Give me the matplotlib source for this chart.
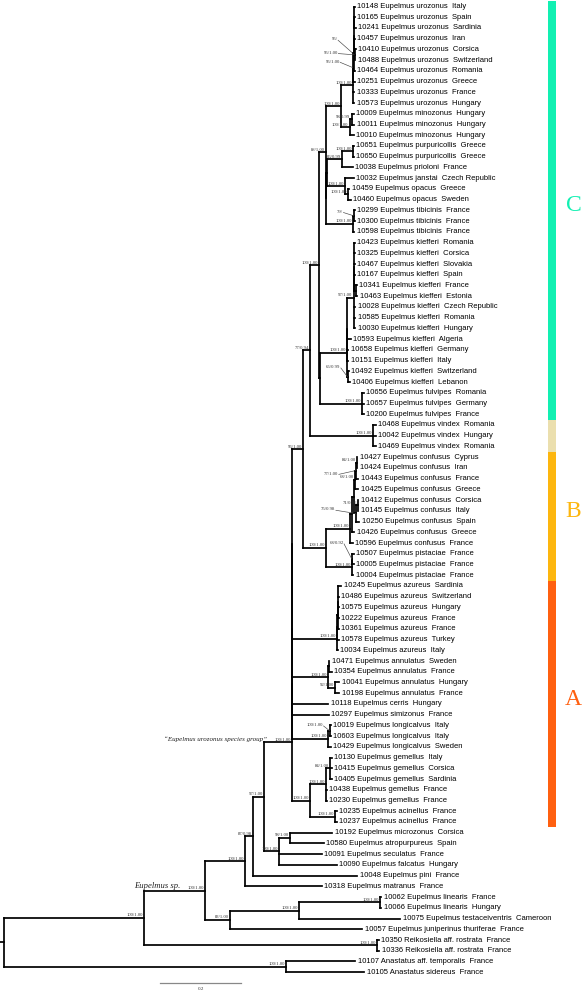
import matplotlib
matplotlib.use('Agg')
import matplotlib.pyplot as plt
from matplotlib import font_manager

# ---------------- data ----------------
leaf_ids = ['10148','10165','10241','10457','10410','10488','10464','10251','10333','10573',
            '10009','10011','10010','10651','10650','10038','10032','10459','10460',
            '10299','10300','10598','10423','10325','10467','10167','10341','10463','10028',
            '10585','10030','10593','10658','10151','10492','10406','10656','10657','10200',
            '10468','10042','10469','10427','10424','10443','10425','10412','10145','10250',
            '10426','10596','10507','10005','10004','10245','10486','10575','10222','10361',
            '10578','10034','10471','10354','10041','10198','10118','10297','10019','10603',
            '10429','10130','10415','10405','10438','10230','10235','10237','10192','10580',
            '10091','10090','10048','10318','10062','10066','10075','10057','10350','10336',
            '10107','10105']

leaf_species = (['Eupelmus urozonus'] * 10 + ['Eupelmus minozonus'] * 3 +
                ['Eupelmus purpuricollis'] * 2 + ['Eupelmus prioloni', 'Eupelmus janstai'] +
                ['Eupelmus opacus'] * 2 + ['Eupelmus tibicinis'] * 3 +
                ['Eupelmus kiefferi'] * 14 + ['Eupelmus fulvipes'] * 3 + ['Eupelmus vindex'] * 3 +
                ['Eupelmus confusus'] * 9 + ['Eupelmus pistaciae'] * 3 + ['Eupelmus azureus'] * 7 +
                ['Eupelmus annulatus'] * 4 + ['Eupelmus cerris', 'Eupelmus simizonus'] +
                ['Eupelmus longicalvus'] * 3 + ['Eupelmus gemellus'] * 5 + ['Eupelmus acinellus'] * 2 +
                ['Eupelmus microzonus', 'Eupelmus atropurpureus', 'Eupelmus seculatus',
                 'Eupelmus falcatus', 'Eupelmus pini', 'Eupelmus matranus'] +
                ['Eupelmus linearis'] * 2 + ['Eupelmus testaceiventris', 'Eupelmus juniperinus thuriferae'] +
                ['Reikosiella aff. rostrata'] * 2 + ['Anastatus aff. temporalis', 'Anastatus sidereus'])

leaf_countries = ['Italy','Spain','Sardinia','Iran','Corsica','Switzerland','Romania','Greece','France','Hungary',
                  'Hungary','Hungary','Hungary','Greece','Greece','France','Czech Republic','Greece','Sweden',
                  'France','France','France','Romania','Corsica','Slovakia','Spain','France','Estonia','Czech Republic',
                  'Romania','Hungary','Algeria','Germany','Italy','Switzerland','Lebanon','Romania','Germany','France',
                  'Romania','Hungary','Romania','Cyprus','Iran','France','Greece','Corsica','Italy','Spain',
                  'Greece','France','France','France','France','Sardinia','Switzerland','Hungary','France','France',
                  'Turkey','Italy','Sweden','France','Hungary','France','Hungary','France','Italy','Italy',
                  'Sweden','Italy','Corsica','Sardinia','France','France','France','France','Corsica','Spain',
                  'France','Hungary','France','France','France','Hungary','Cameroon','France','France','France',
                  'France','France']

# sub-trees (Newick, branch lengths in substitutions/site, node labels = bootstrap/posterior)
nwk_urozonus = ("(((((10148:0.001,10165:0.001,10241:0.003):0.001,10457:0.002,"
                "(10410:0.002,10488:0.001)95/1.00:0.002):0.001,10464:0.003)95/:0.001,"
                "10251:0.004)95/1.00:0.001,10333:0.004,10573:0.004)100/1.00")
nwk_minozonus = "((10009:0.006,10011:0.007)98/0.99:0.005,10010:0.011)100/1.00"
nwk_purpuricollis = ("(((10651:0.002,10650:0.002)100/1.00:0.027,10038:0.027)86/0.99:0.037,"
                     "(10032:0.022,(10459:0.003,10460:0.007)100/1.00:0.007)100/1.00:0.045)")
nwk_tibicinis = "((10299:0.002,10300:0.002)79/:0.003,10598:0.004)100/1.00"
nwk_kiefferi = ("((((10423:0.002,10325:0.002,10467:0.002,10167:0.002,(10341:0.002,10463:0.003):0.005):0.001,"
                "10028:0.004,10585:0.004,10030:0.004)97/1.00:0.015,10593:0.008,10658:0.002,10151:0.002):0.001,"
                "(10492:0.002,10406:0.004)65/0.99:0.002)100/1.00")
nwk_fulvipes = "(10656:0.004,10657:0.004,10200:0.004)100/1.00"
nwk_vindex = "(10468:0.006,10042:0.006,10469:0.006)100/1.00"
nwk_confusus = ("((((((10427:0.001,10424:0.001)84/1.00:0.002,10443:0.005)77/1.00:0.002,10425:0.007)68/1.00:0.002,"
                "((10412:0.001,10145:0.001)71/0.96:0.004,10250:0.007)75/0.98:0.005):0.005,10426:0.005):0.005,"
                "10596:0.006)100/1.00")
nwk_pistaciae = "((10507:0.003,10005:0.003)68/0.92:0.002,10004:0.004)100/1.00"
nwk_azureus = ("((((10245:0.007,10486:0.001,10575:0.001,10222:0.001):0.001,10361:0.003):0.001,"
               "10578:0.003):0.001,10034:0.002)100/1.00")
nwk_annulatus = "((10471:0.001,10354:0.007):0.001,(10041:0.010,10198:0.010)92/1.00:0.017)100/1.00"
nwk_longicalvus = "((10019:0.002,10603:0.002)100/1.00:0.004,10429:0.006)100/1.00"
nwk_gemellus_acinellus = ("(((10130:0.003,10415:0.003,10405:0.003)84/1.00:0.010,10438:0.001,10230:0.001)100/1.00:0.040,"
                          "(10235:0.003,10237:0.003)100/1.00:0.062)100/1.00")
nwk_microzonus_group = "((10192:0.103,10580:0.082)98/1.00:0.029,10091:0.107,10090:0.143)100/1.00"
nwk_linearis_group = "(((10062:0.003,10066:0.003)100/1.00:0.199,10075:0.249)100/1.00:0.172,10057:0.328)83/1.00"
nwk_reikosiella = "(10350:0.003,10336:0.005)100/1.00"
nwk_anastatus = "(10107:0.172,10105:0.195)100/1.00"

clade_C = ("((" + nwk_urozonus + ":0.030," + nwk_minozonus + ":0.022)100/1.00:0.036,(" +
           nwk_purpuricollis + ":0.001," + nwk_tibicinis + ":0.065):0.001)88/1.00")
clade_R = ("((" + clade_C + ":0.017,(" + nwk_kiefferi + ":0.068," + nwk_fulvipes + ":0.105):0.001)100/1.00:0.022,"
           + nwk_vindex + ":0.156)77/0.94")
clade_S = ("(" + clade_R + ":0.018,(" + nwk_confusus + ":0.059," + nwk_pistaciae + ":0.062)100/1.00:0.058)96/1.00")
clade_urozonus_group = ("((((" + clade_S + ":0.027," + nwk_azureus + ":0.111):0," + nwk_annulatus +
                        ":0.090,10118:0.090,10297:0.091):0," + nwk_longicalvus + ":0.090):0," +
                        nwk_gemellus_acinellus + ":0.045)100/1.00")
clade_eupelmus = ("((((" + clade_urozonus_group + ":0.068," + nwk_microzonus_group + ":0.035)97/1.00:0.029,"
                  "10048:0.258)87/0.98:0.018,10318:0.188)100/1.00:0.101," + nwk_linearis_group + ":0.062)100/1.00")
tree_newick = ("((" + clade_eupelmus + ":0.149," + nwk_reikosiella + ":0.576)100/1.00:0.347," +
               nwk_anastatus + ":0.696):0.009;")

# colour groups (first leaf, last leaf, colour, letter)
group_first = ['10148', '10468', '10427', '10245']
group_last = ['10200', '10469', '10004', '10237']
group_colors = ['#12F0B2', '#EBDFAE', '#FDB60E', '#FF6010']
group_letters = ['C', '', 'B', 'A']

# labels with leader lines: node (first leaf, last leaf) -> text offset in px
leader_nodes = {('10148', '10464'): (-16, -14), ('10410', '10488'): (-17, -2),
                ('10148', '10251'): (-13.5, -6), ('10299', '10300'): (-11, -4),
                ('10492', '10406'): (-7.5, -9.5), ('10427', '10443'): (-17.7, 3),
                ('10412', '10250'): (-21, -4), ('10507', '10005'): (-8.8, -16),
                ('10019', '10603'): (-7, -5.6)}

# ---------------- parse ----------------
def parse_newick(s):
    s = s.strip().rstrip(';')
    pos = 0

    def node():
        nonlocal pos
        n = {'children': [], 'label': '', 'len': 0.0}
        if s[pos] == '(':
            pos += 1
            while True:
                n['children'].append(node())
                if s[pos] == ',':
                    pos += 1
                    continue
                pos += 1
                break
        st = pos
        while pos < len(s) and s[pos] not in ':,()':
            pos += 1
        n['label'] = s[st:pos]
        if pos < len(s) and s[pos] == ':':
            pos += 1
            st = pos
            while pos < len(s) and s[pos] not in ',()':
                pos += 1
            n['len'] = float(s[st:pos])
        return n
    return node()

root = parse_newick(tree_newick)
leaf_index = {lid: i for i, lid in enumerate(leaf_ids)}

def layout(n, depth):
    n['x'] = depth + n['len']
    if not n['children']:
        n['y'] = leaf_index[n['label']]
        n['span'] = (n['label'], n['label'])
    else:
        for c in n['children']:
            layout(c, n['x'])
        n['y'] = (n['children'][0]['y'] + n['children'][-1]['y']) / 2
        n['span'] = (n['children'][0]['span'][0], n['children'][-1]['span'][1])

layout(root, 0.0)

# ---------------- figure ----------------
W, H = 585, 992
PX = 405.0        # pixels per substitution unit
ROW = 10.73       # pixels per leaf row
Y0 = 6.5          # pixel of first row

fig = plt.figure(figsize=(W / 100, H / 100), dpi=100)
ax = fig.add_axes([0, 0, 1, 1])
ax.set_xlim(0, W / PX)
ax.set_ylim((H - Y0) / ROW, -Y0 / ROW)
ax.axis('off')

def px_x(p):
    return p / PX

def px_y(p):
    return p / ROW

fm = font_manager.fontManager
names = {f.name for f in fm.ttflist}
if 'Liberation Sans Narrow' in names:
    leaf_font, leaf_size = 'Liberation Sans Narrow', 6.7
else:
    leaf_font, leaf_size = 'Liberation Sans', 5.5
serif = 'Liberation Serif' if 'Liberation Serif' in names else 'DejaVu Serif'

LW = 1.25

def draw(n, parent_x):
    ax.plot([parent_x, n['x']], [n['y'], n['y']], color='black', lw=LW, solid_capstyle='projecting')
    if n['children']:
        ys = [c['y'] for c in n['children']]
        ax.plot([n['x'], n['x']], [min(ys), max(ys)], color='black', lw=LW, solid_capstyle='projecting')
        for c in n['children']:
            draw(c, n['x'])
        if n['label']:
            key = n['span']
            if key in leader_nodes:
                dx, dy = leader_nodes[key]
                tx, ty = n['x'] + px_x(dx), n['y'] + px_y(dy)
                ax.text(tx, ty, n['label'], ha='right', va='center', fontsize=3.4,
                        family=serif, color='#333333')
                ax.plot([tx + px_x(0.5), n['x'] - px_x(0.5)], [ty + px_y(0.8), n['y']],
                        color='#444444', lw=0.45)
            else:
                ax.text(n['x'] - px_x(1), n['y'] - px_y(0.6), n['label'], ha='right', va='bottom',
                        fontsize=3.4, family=serif, color='#333333')
    else:
        i = leaf_index[n['label']]
        ax.text(n['x'] + px_x(2.5), n['y'], f"{leaf_ids[i]} {leaf_species[i]}  {leaf_countries[i]}",
                ha='left', va='center', fontsize=leaf_size, family=leaf_font, color='black')

draw(root, 0.0)

# named clades
def find(n, span):
    if n['span'] == span:
        return n
    for c in n['children']:
        r = find(c, span)
        if r is not None:
            return r
    return None

eup = find(root, ('10148', '10057'))
ax.text(eup['x'] - px_x(24), eup['y'] - px_y(0.6), 'Eupelmus sp.', ha='right', va='bottom',
        fontsize=6.2, family=serif, style='italic', color='#222222')
uro_group = find(root, ('10148', '10237'))
ax.text(uro_group['x'] - px_x(25.5), uro_group['y'] - px_y(0.6), '\u201cEupelmus urozonus species group\u201d',
        ha='right', va='bottom', fontsize=5.0, family=serif, style='italic', color='#222222')

# colour bar with clade letters
bar_x0, bar_x1 = px_x(547.5), px_x(556.3)
for f, l, col, let in zip(group_first, group_last, group_colors, group_letters):
    y0, y1 = leaf_index[f] - 0.5, leaf_index[l] + 0.5
    ax.bar((bar_x0 + bar_x1) / 2, y1 - y0, width=bar_x1 - bar_x0, bottom=y0, color=col, linewidth=0)
    if let:
        ax.text(px_x(573.5), (y0 + y1) / 2 - 0.45, let, ha='center', va='center', fontsize=17,
                family=serif, color=col)

# scale bar
sb_len = 0.2
sb_x0 = px_x(160)
sb_y = px_y(982.7 - Y0)
ax.plot([sb_x0, sb_x0 + sb_len], [sb_y, sb_y], color='#888888', lw=0.9)
ax.text(sb_x0 + sb_len / 2, sb_y + px_y(6.5), '0.2', ha='center', va='center', fontsize=3.6,
        family=serif, color='#333333')

fig.savefig('out.png', dpi=100)
